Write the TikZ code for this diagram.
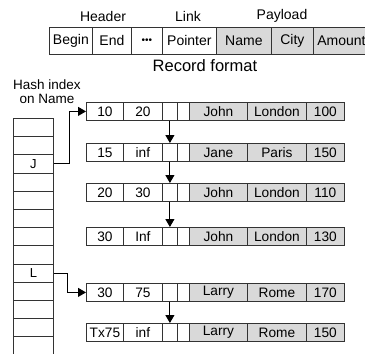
\documentclass[tikz,border=0pt]{standalone}
\usepackage{fontspec}
\setmainfont{Liberation Sans}
\usetikzlibrary{arrows.meta}
\begin{document}
\begin{tikzpicture}[x=1pt,y=-1pt,
  cell/.style={draw=black!80, line width=0.8pt, minimum height=18pt, inner sep=0pt, anchor=north west, font=\fontsize{13.7}{14}\selectfont},
  gcell/.style={cell, fill=black!15},
  hcell/.style={cell, minimum height=27pt, font=\fontsize{14}{15}\selectfont},
  hgcell/.style={hcell, fill=black!15},
  hrow/.style={draw=black!80, line width=0.8pt, minimum width=40pt, minimum height=18.2pt, inner sep=0pt, anchor=north west, font=\fontsize{13}{14}\selectfont},
  lbl/.style={inner sep=0pt, font=\fontsize{14}{15}\selectfont},
  arr/.style={draw=black, line width=1pt, -{Triangle[length=8pt,width=9pt]}}
]
\useasboundingbox (0,0) rectangle (365,354);
\clip (0,0) rectangle (365,354);
% record format
\node[lbl] (header) at (103,16) {Header};
\node[lbl] (link) at (188,16) {Link};
\node[lbl] (payload) at (282,16) {Payload};
\node[hcell, minimum width=43pt] (fbegin) at (49,27) {Begin};
\node[hcell, minimum width=39pt] (fend) at (92,27) {End};
\node[hcell, minimum width=31pt, font=\fontsize{10}{10}\selectfont] (fdots) at (131,27) {•••};
\node[hcell, minimum width=54pt] (fptr) at (162,27) {Pointer};
\node[hgcell, minimum width=55pt] (fname) at (216,27) {Name};
\node[hgcell, minimum width=42pt] (fcity) at (271,27) {City};
\node[hgcell, minimum width=56pt] (famt) at (313,27) {Amount};
\node[inner sep=0pt, font=\fontsize{16.5}{18}\selectfont] (recfmt) at (205,66) {Record format};
% hash index
\node[inner sep=0pt, align=center, font=\fontsize{13.5}{14}\selectfont] (hashlbl) at (47,92) {Hash index\\on Name};
\foreach \k in {0,...,12} {
  \node[hrow] (h\k) at (13,{118+18.2*\k}) {};
}
\node[font=\fontsize{13}{14}\selectfont] (jlbl) at (h2.center) {J};
\node[font=\fontsize{13}{14}\selectfont] (llbl) at (h8.center) {L};
% records
\foreach \i/\t/\a/\b/\n/\c/\m in {1/102/10/20/John/London/100, 2/143/15/inf/Jane/Paris/150, 3/183/20/30/John/London/110, 4/227/30/Inf/John/London/130, 5/283/30/75/Larry/Rome/170, 6/323/Tx75/inf/Larry/Rome/150} {
  \node[cell, minimum width=37pt] (r\i a) at (86,\t) {\a};
  \node[cell, minimum width=39pt] (r\i b) at (123,\t) {\b};
  \node[cell, minimum width=15pt] (r\i p) at (162,\t) {};
  \node[cell, minimum width=12pt] (r\i q) at (177,\t) {};
  \node[gcell, minimum width=58pt] (r\i n) at (189,\t) {\n};
  \node[gcell, minimum width=59pt] (r\i c) at (247,\t) {\c};
  \node[gcell, minimum width=38pt] (r\i m) at (306,\t) {\m};
}
\draw[arr] (r1p.south) -- (r2p.north);
\draw[arr] (r2p.south) -- (r3p.north);
\draw[arr] (r3p.south) -- (r4p.north);
\draw[arr] (r5p.south) -- (r6p.north);
\draw[arr] (h2.east) -- ++(16,0) |- (r1a.west);
\draw[arr] (h8.east) -- ++(14,0) |- (r5a.west);
\end{tikzpicture}
\end{document}
